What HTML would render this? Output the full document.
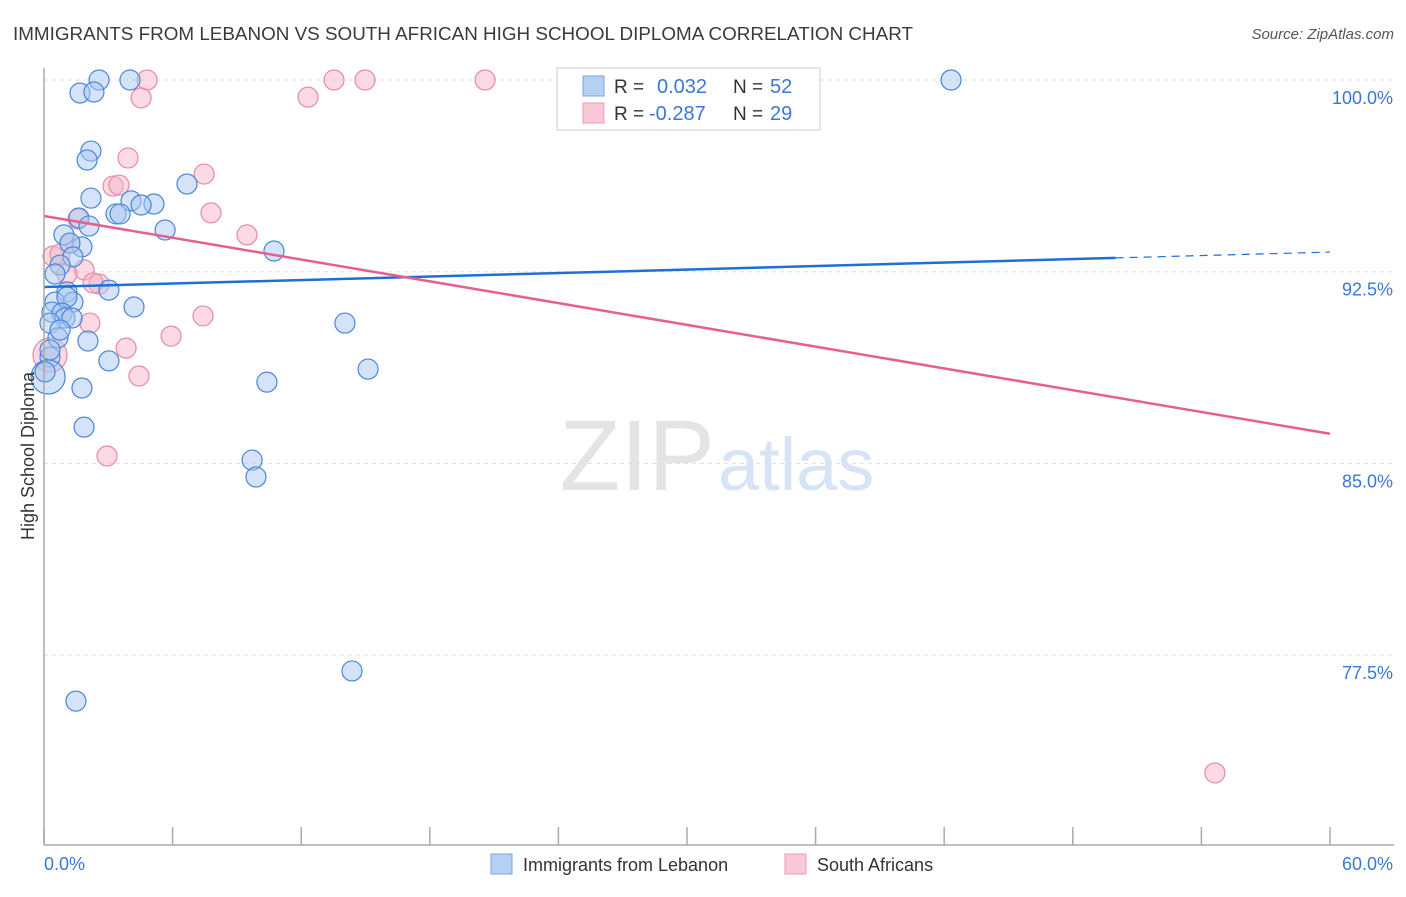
<!DOCTYPE html>
<html><head><meta charset="utf-8">
<style>
body{margin:0;background:#fff;font-family:"Liberation Sans",sans-serif;}
svg text{font-family:"Liberation Sans",sans-serif;}
</style></head>
<body>
<svg id="chart" width="1406" height="892" xmlns="http://www.w3.org/2000/svg">
<text x="13" y="40" font-size="18" fill="#3a3a3a" textLength="900" lengthAdjust="spacingAndGlyphs">IMMIGRANTS FROM LEBANON VS SOUTH AFRICAN HIGH SCHOOL DIPLOMA CORRELATION CHART</text>
<text x="1394" y="39" font-size="15" fill="#555" text-anchor="end" font-style="italic">Source: ZipAtlas.com</text>
<text x="715" y="490" font-size="100" fill="#e4e4e4" text-anchor="end" font-family="Liberation Serif">ZIP</text>
<text x="718" y="490" font-size="74" fill="#d6e4f5">atlas</text>
<g id="grid"></g>
<g id="pts"></g>
<g id="lines"></g>
<line x1="44" y1="68" x2="44" y2="845" stroke="#aaa" stroke-width="1.5"/>
<line x1="44" y1="845" x2="1394" y2="845" stroke="#aaa" stroke-width="1.5"/>
<text transform="translate(34,456) rotate(-90)" font-size="18" fill="#333" text-anchor="middle">High School Diploma</text>
<text x="44" y="870" font-size="18" fill="#3a78d4">0.0%</text>
<text x="1393" y="870" font-size="18" fill="#3a78d4" text-anchor="end">60.0%</text>
<g>
<rect x="557" y="68" width="263" height="62" fill="#fff" stroke="#ccc"/>
<rect x="583" y="76" width="21" height="20" fill="#b5d0f3" stroke="#7aa6e3"/>
<rect x="583" y="103" width="21" height="20" fill="#f9c9d7" stroke="#eb9ab3"/>
<text x="614" y="93" font-size="19" fill="#333">R =</text>
<text x="657" y="93" font-size="20" fill="#3a78d4">0.032</text>
<text x="733" y="93" font-size="19" fill="#333">N =</text>
<text x="770" y="93" font-size="20" fill="#3a78d4">52</text>
<text x="614" y="120" font-size="19" fill="#333">R =</text>
<text x="649" y="120" font-size="20" fill="#3a78d4">-0.287</text>
<text x="733" y="120" font-size="19" fill="#333">N =</text>
<text x="770" y="120" font-size="20" fill="#3a78d4">29</text>
</g>
<g>
<rect x="491" y="854" width="21" height="20" fill="#b5d0f3" stroke="#7aa6e3"/>
<text x="523" y="871" font-size="18" fill="#333">Immigrants from Lebanon</text>
<rect x="785" y="854" width="21" height="20" fill="#f9c9d7" stroke="#eb9ab3"/>
<text x="817" y="871" font-size="18" fill="#333">South Africans</text>
</g>
</svg>
<script>
const yTicks=[100,92.5,85,77.5];
const xTicks=[0,6,12,18,24,30,36,42,48,54,60];
const blueX=[2.57,4.01,1.68,2.33,42.32,2.19,2.01,6.67,2.19,4.06,5.13,4.53,3.36,3.55,5.65,1.63,2.10,0.93,1.77,1.21,1.35,0.75,10.73,0.51,3.03,1.07,0.51,1.35,1.07,4.20,0.37,0.84,0.98,1.31,0.28,14.04,0.65,2.05,0.28,3.03,15.12,10.40,1.77,0.19,1.87,9.71,9.89,14.37,1.49,0.28,0.75,0.05];
const blueY=[100,100,99.49,99.53,100,97.22,96.87,95.93,95.38,95.27,95.15,95.11,94.76,94.76,94.13,94.60,94.29,93.94,93.47,93.62,93.08,92.76,93.31,92.41,91.78,91.71,91.31,91.31,91.51,91.12,90.92,90.88,90.69,90.69,90.49,90.49,89.91,89.79,89.16,89.01,88.69,88.18,87.95,88.38,86.42,85.13,84.47,76.88,75.70,89.44,90.22,88.58];
const blueR=[10,10,10,10,10,10,10,10,10,10,10,10,10,10,10,10,10,10,10,10,10,10,10,10,10,10,10,10,10,10,10,10,10,10,10,10,10,10,10,10,10,10,10,17,10,10,10,10,10,10,10,10];
const pinkX=[4.81,13.53,14.98,20.58,33.50,4.53,12.32,3.92,7.47,3.22,3.50,7.79,1.59,9.47,1.21,0.42,0.75,1.87,1.07,2.57,2.14,7.42,5.93,3.83,4.43,0.28,2.94,54.63,2.29];
const pinkY=[100,100,100,100,100,99.30,99.33,96.95,96.32,95.85,95.89,94.80,94.56,93.94,93.62,93.11,93.19,92.57,92.41,92.02,90.49,90.77,89.98,89.51,88.42,89.24,85.29,72.89,92.06];
const pinkR=[10,10,10,10,10,10,10,10,10,10,10,10,10,10,10,10,10,10,10,10,10,10,10,10,10,17,10,10,10];
const blueTrend=[91.90,0.0228];
const pinkTrend=[94.68,-0.142];
const X0=44,X1=1330,Y100=80,PX_PER=191.7/7.5;
const xs=v=>X0+(v/60)*(X1-X0);
const ys=v=>Y100+(100-v)*PX_PER;
const NS="http://www.w3.org/2000/svg";
const grid=document.getElementById('grid');
yTicks.forEach(t=>{
 const l=document.createElementNS(NS,'line');
 
 
 l.setAttribute('x1',44);l.setAttribute('x2',1394);l.setAttribute('y1',ys(t));l.setAttribute('y2',ys(t));
 l.setAttribute('stroke','#ddd');l.setAttribute('stroke-dasharray','4,4');
 grid.appendChild(l);
 const tx=document.createElementNS(NS,'text');
 
 
 tx.setAttribute('x',1393);tx.setAttribute('y',ys(t)+24);tx.setAttribute('text-anchor','end');
 tx.setAttribute('font-size','18');tx.setAttribute('fill','#3a78d4');
 tx.textContent=t.toFixed(1)+'%';
 grid.appendChild(tx);
});
xTicks.forEach(t=>{
 const l=document.createElementNS(NS,'line');
 
 
 l.setAttribute('x1',xs(t));l.setAttribute('x2',xs(t));l.setAttribute('y1',827);l.setAttribute('y2',845);
 l.setAttribute('stroke','#aaa');l.setAttribute('stroke-width','1.5');
 grid.appendChild(l);
});
const pts=document.getElementById('pts');
function dot(x,y,r,fill,stroke,name){
 const c=document.createElementNS(NS,'circle');
 
 
 c.setAttribute('cx',xs(x));c.setAttribute('cy',ys(y));c.setAttribute('r',r);
 c.setAttribute('fill',fill);c.setAttribute('fill-opacity','0.5');
 c.setAttribute('stroke',stroke);c.setAttribute('stroke-width','1.2');
 pts.appendChild(c);
}
pinkX.forEach((x,i)=>dot(x,pinkY[i],pinkR[i],'#f7b6ca','#e889a8','pink-point'));
blueX.forEach((x,i)=>dot(x,blueY[i],blueR[i],'#a9c8f0','#4a86d8','blue-point'));
const lines=document.getElementById('lines');
function seg(a,b,trend,color,dash,name){
 const l=document.createElementNS(NS,'line');
 
 
 l.setAttribute('x1',xs(a));l.setAttribute('y1',ys(trend[0]+trend[1]*a));
 l.setAttribute('x2',xs(b));l.setAttribute('y2',ys(trend[0]+trend[1]*b));
 l.setAttribute('stroke',color);l.setAttribute('stroke-width',dash?1.2:2.5);
 if(dash)l.setAttribute('stroke-dasharray','8,6');
 lines.appendChild(l);
}
seg(0,50,blueTrend,'#1f6fd6',false,'blue-trendline');
seg(50,60,blueTrend,'#1f6fd6',true,'blue-trendline-extension');
seg(0,60,pinkTrend,'#e5608e',false,'pink-trendline');
</script>
</body></html>
